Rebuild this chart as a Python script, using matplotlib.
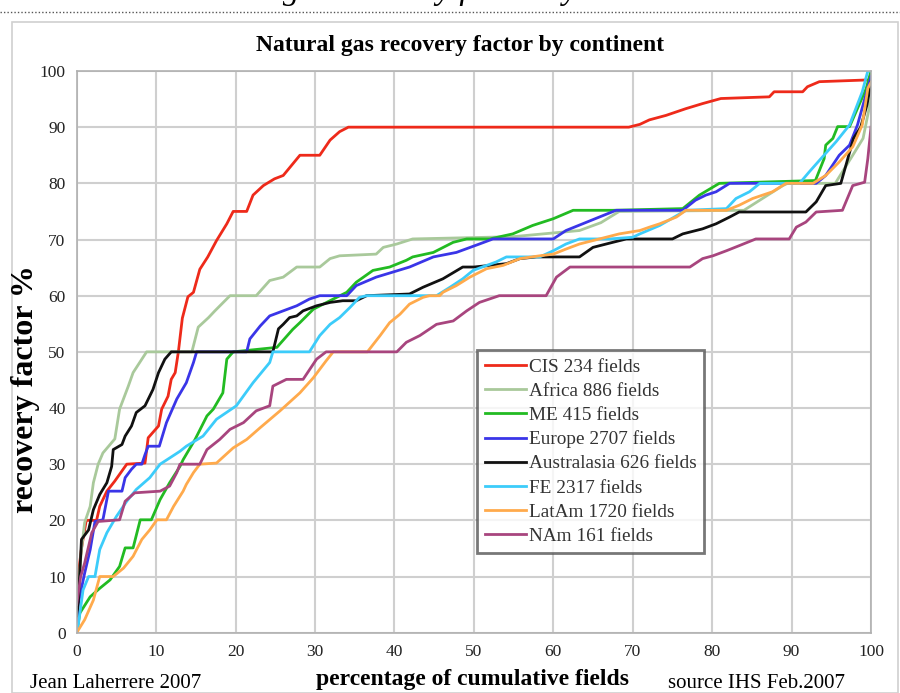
import matplotlib
matplotlib.use('Agg')
import matplotlib.pyplot as plt
from matplotlib.patches import Rectangle
from matplotlib.lines import Line2D

plt.rcParams['font.family'] = ['Liberation Serif', 'DejaVu Serif']

# 各大陸のデータ (累積フィールド% , 回収率%)
cis_x = [0, 0.6, 1.2, 2.5, 2.9, 3.8, 4.8, 5.7, 6.3, 8.6, 9.0, 10.3, 10.7, 11.5, 11.9, 12.4, 12.8, 13.3,
         14.0, 14.7, 15.5, 16.5, 17.6, 18.9, 19.7, 21.4, 22.2, 23.5, 24.9, 26.0, 28.1, 30.6, 31.9, 33.1,
         34.2, 69.5, 70.9, 72.1, 74.2, 76.7, 78.8, 81.1, 87.2, 87.8, 91.4, 92.0, 93.5, 99.4, 100]
cis_y = [8, 15, 20, 20, 22.5, 25.2, 27, 28.8, 30, 30.2, 34.7, 36.8, 39.8, 42.1, 45.1, 46.3, 50, 56,
         59.8, 60.6, 64.7, 66.9, 69.8, 72.8, 75, 75, 77.9, 79.6, 80.8, 81.4, 85, 85, 87.7, 89.2,
         90, 90, 90.5, 91.3, 92.1, 93.3, 94.2, 95.1, 95.4, 96.3, 96.3, 97.2, 98.1, 98.4, 98.4]

africa_x = [0, 0.3, 0.6, 1.0, 1.7, 2.1, 2.7, 3.3, 4.2, 4.8, 5.4, 6.5, 7.1, 8.8, 14.5, 15.3, 16.6, 17.4,
            19.3, 22.6, 24.3, 26.0, 27.7, 30.6, 31.9, 33.1, 37.7, 38.6, 40.3, 42.3, 54.9, 63.3, 66.0,
            68.3, 84.0, 86.0, 88.9, 89.5, 95.5, 97.7, 99.0, 100]
africa_y = [4, 10, 14.8, 19.6, 22.5, 26.7, 30, 32, 33.5, 34.5, 39.8, 43.9, 46.3, 50, 50, 54.4, 56.1, 57.3,
            60, 60, 62.7, 63.3, 65.1, 65.1, 66.6, 67.1, 67.4, 68.6, 69.2, 70.1, 70.5, 71.6, 73,
            75, 75.2, 77, 79.6, 80, 80, 85, 88, 95]

me_x = [0, 0.4, 1.7, 2.9, 4.2, 5.4, 6.1, 7.1, 8.0, 9.4, 10.5, 11.7, 13.0, 13.4, 14.9, 16.4, 17.2, 18.4,
        18.9, 19.7, 25.2, 27.2, 28.1, 29.8, 32.3, 34.0, 35.2, 37.3, 39.4, 41.5, 42.3, 44.9, 47.4, 49.1,
        52.0, 54.9, 57.4, 60.0, 62.5, 67.5, 76.3, 78.4, 80.9, 93.0, 94.1, 94.3, 95.2, 95.8, 97.3, 99.4, 100]
me_y = [0, 3.5, 6.4, 7.9, 9.4, 11.8, 15.1, 15.1, 20.1, 20.1, 23.7, 26.7, 29.6, 30.8, 34.4, 38.6, 39.8, 42.7,
        48.7, 50, 50.8, 54, 55.2, 57.6, 59.4, 60.6, 62.4, 64.5, 65.1, 66.3, 66.9, 67.7, 69.5, 70.1,
        70.1, 71, 72.5, 73.7, 75.2, 75.2, 75.5, 77.9, 80, 80.5, 84.4, 86.8, 88, 90.1, 90.1, 96.9, 100]

europe_x = [0, 0.2, 1.0, 1.7, 2.3, 3.3, 4.0, 5.7, 6.1, 6.9, 7.5, 8.2, 8.6, 9.0, 10.4, 11.3, 12.6, 13.8,
            14.7, 15.1, 21.4, 21.8, 23.1, 24.3, 26.0, 27.7, 29.3, 30.6, 34.0, 35.2, 37.7, 39.8, 41.9,
            44.9, 47.8, 50.7, 52.4, 60.0, 61.6, 63.7, 65.8, 67.9, 76.3, 77.9, 79.2, 80.5, 82.2, 93.1,
            94.3, 96.0, 97.3, 98.3, 99.4, 100]
europe_y = [0, 5.2, 10.6, 14.8, 19.8, 20.1, 25.2, 25.2, 27.6, 29.1, 30, 30, 31.7, 33.2, 33.2, 37.4, 41.6, 44.5,
            48.1, 50, 50, 52.3, 54.6, 56.4, 57.3, 58.2, 59.4, 60, 60, 61.8, 63.3, 64.2, 65.1,
            66.9, 67.7, 69.2, 70.1, 70.1, 71.6, 72.8, 74, 75.2, 75.2, 77, 77.9, 78.5, 80, 80,
            81.4, 85, 86.8, 90.4, 96, 99]

austral_x = [0, 0.2, 0.6, 1.5, 2.1, 2.9, 3.8, 4.4, 4.6, 5.7, 6.1, 6.9, 7.5, 8.6, 9.6, 10.3, 11.1, 11.9,
             24.7, 25.4, 26.0, 26.8, 27.7, 28.5, 30.2, 31.9, 33.5, 35.2, 36.5, 41.9, 43.6, 46.1, 48.6,
             50.0, 54.1, 55.8, 57.9, 63.3, 65.0, 67.5, 69.2, 75.0, 76.3, 78.8, 80.5, 82.2, 83.4, 91.8,
             93.1, 94.3, 96.2, 97.0, 97.8, 98.7, 99.5, 100]
austral_y = [3, 5.2, 16.6, 18.3, 21.9, 24.6, 26.7, 29.6, 32.6, 33.5, 35, 36.8, 39.2, 40.4, 43.3, 46.3, 48.7, 50,
             50, 54.1, 54.9, 56.1, 56.4, 57.3, 58.2, 58.8, 59.1, 59.1, 60, 60.3, 61.5, 63, 65.1,
             65.1, 65.7, 66.6, 66.9, 66.9, 68.6, 69.5, 70.1, 70.1, 71, 71.9, 72.8, 74, 74.9, 74.9,
             76.7, 79.6, 80, 84, 88, 90, 94, 98]

fe_x = [0, 0.2, 0.8, 1.5, 2.3, 2.9, 3.8, 5.0, 6.3, 7.5, 9.2, 10.5, 11.7, 13.0, 13.8, 15.9, 17.6, 20.1,
        22.2, 24.3, 24.7, 29.3, 30.6, 31.9, 33.1, 34.4, 35.6, 36.5, 45.3, 47.0, 48.6, 49.9, 52.8, 54.1,
        58.3, 60.0, 61.6, 63.3, 67.1, 70.0, 70.9, 73.4, 76.7, 81.8, 83.0, 84.7, 86.0, 91.0, 92.2, 93.7,
        95.6, 97.3, 98.9, 99.6, 100]
fe_y = [0, 1.4, 7.6, 10, 10, 14.8, 17.8, 20.7, 23.4, 25.5, 27.6, 30, 31.1, 32.3, 33.2, 35, 38, 40.4,
        44.5, 48.1, 50, 50, 52.9, 54.9, 56.1, 57.9, 59.7, 60, 60, 61.5, 63, 64.5, 66, 66.9,
        66.9, 68, 69.2, 70.1, 70.1, 70.4, 71, 72.5, 75.2, 75.5, 77.3, 78.5, 80, 80, 82, 84.4,
        87.4, 90.4, 96.3, 100, 100]

latam_x = [0, 1.0, 2.1, 2.9, 4.6, 5.9, 7.1, 8.2, 9.2, 10.1, 11.3, 12.2, 13.4, 13.8, 14.7, 15.5, 17.6,
           19.7, 21.4, 23.1, 25.6, 28.1, 29.8, 31.4, 32.3, 36.6, 38.2, 39.4, 40.7, 41.9, 43.6, 44.4,
           45.7, 46.1, 47.8, 49.5, 51.6, 53.7, 55.8, 58.3, 60.0, 61.6, 63.3, 65.8, 68.3, 70.9, 72.1,
           73.4, 75.5, 76.7, 81.8, 83.4, 85.1, 87.6, 89.3, 92.7, 94.3, 96.0, 97.7, 98.9, 99.6, 100]
latam_y = [0, 2.3, 5.8, 10, 10, 11.5, 13.6, 16.6, 18.3, 20.1, 20.1, 22.5, 25.2, 26.4, 28.5, 30, 30.2,
           32.9, 34.4, 36.5, 39.5, 42.7, 45.4, 48.4, 50, 50, 52.9, 55.2, 56.7, 58.5, 59.7, 60,
           60, 60.6, 61.8, 63.3, 64.8, 65.4, 66.6, 67.1, 67.4, 68.3, 69.2, 70.1, 71, 71.6, 72.2,
           72.8, 74, 75.2, 75.2, 76.1, 77.3, 78.5, 80, 80, 81.4, 83.8, 86.5, 90.4, 96.9, 98]

nam_x = [0, 0.5, 1.0, 1.5, 1.9, 2.7, 5.4, 6.1, 7.3, 10.5, 11.7, 12.6, 13.0, 15.5, 16.4, 18.0, 19.3, 21.0,
         22.6, 24.3, 24.7, 26.4, 28.5, 30.2, 31.4, 40.3, 41.5, 43.2, 45.3, 47.4, 49.1, 50.7, 53.2,
         59.1, 60.4, 62.1, 77.2, 78.8, 80.1, 81.8, 83.4, 85.5, 89.7, 90.6, 91.8, 93.1, 96.4, 97.7,
         99.2, 99.6, 100]
nam_y = [5, 10, 12.4, 15.4, 17.8, 19.8, 20.1, 23.4, 24.9, 25.2, 26.1, 28.5, 30, 30, 32.6, 34.4, 36.2, 37.4,
         39.5, 40.4, 43.9, 45.1, 45.1, 48.7, 50, 50, 51.7, 52.9, 54.9, 55.5, 57.3, 58.8, 60,
         60, 63.3, 65.1, 65.1, 66.6, 67.1, 68, 68.9, 70.1, 70.1, 72.2, 73.1, 74.9, 75.2, 79.6,
         80.2, 84.4, 90]

labels = ['CIS 234 fields', 'Africa 886 fields', 'ME 415 fields', 'Europe 2707 fields',
          'Australasia 626 fields', 'FE 2317 fields', 'LatAm 1720 fields', 'NAm 161 fields']
colors = ['#ee2a1a', '#a9c99b', '#22bb22', '#3a35e8', '#111111', '#3cccfa', '#ffaa4c', '#a8457e']
series = [(cis_x, cis_y), (africa_x, africa_y), (me_x, me_y), (europe_x, europe_y),
          (austral_x, austral_y), (fe_x, fe_y), (latam_x, latam_y), (nam_x, nam_y)]

fig = plt.figure(figsize=[9, 6.93], dpi=100)
W, H = 900, 693

# 枠と上の点線
fig.patches.append(Rectangle((12 / W, 0), (898 - 12) / W, 1 - 22 / H, transform=fig.transFigure,
                             facecolor='none', edgecolor='#d0d0d0', linewidth=1.2, zorder=-1))
fig.add_artist(Line2D([0, 1], [1 - 12 / H, 1 - 12 / H], transform=fig.transFigure,
                      color='#555555', linestyle=(0, (1, 1.5)), linewidth=1))
# 上で切れている見出し (下端だけ見える)
fig.text(172 / W, 1 + 1 / H, 'Natural gas recovery factor by continent', style='italic',
         fontsize=23.8, va='baseline', ha='left')

ax = fig.add_axes([76.7 / W, 1 - 632.7 / H, (871 - 76.7) / W, (632.7 - 71) / H])
for (xs, ys), c, lab in zip(series, colors, labels):
    ax.plot(xs, ys, color=c, linewidth=2.0, label=lab)

ax.set_xlim(0, 100)
ax.set_ylim(0, 100)
ax.set_xticks(range(0, 101, 10))
ax.set_yticks(range(0, 101, 10))
ax.grid(color='#cfcfcf', linewidth=1.5)
ax.set_axisbelow(True)
ax.tick_params(length=0, labelsize=12.5, labelcolor='#222222', pad=8)
for s in ax.spines.values():
    s.set_color('#b0b0b0')
    s.set_linewidth(1.2)

fig.text(460 / W, 1 - 45 / H, 'Natural gas recovery factor by continent', fontsize=17,
         fontweight='bold', ha='center', va='center')
fig.text(26 / W, 1 - 389 / H, 'recovery factor %', fontsize=23, fontweight='bold',
         rotation=90, ha='center', va='center')

leg = ax.legend(loc='upper left', bbox_to_anchor=(0.504, 0.503), borderaxespad=0,
                fontsize=13.9, frameon=True, fancybox=False, handlelength=2.1,
                handletextpad=0.15, labelspacing=0.34, borderpad=0.42)
leg.get_frame().set_edgecolor('#555555')
leg.get_frame().set_linewidth(2)
for t in leg.get_texts():
    t.set_color('#333333')

fig.text(473 / W, 1 - 679 / H, 'percentage of cumulative fields', fontsize=17, fontweight='bold',
         ha='center', va='center')
fig.text(30 / W, 1 - 684 / H, 'Jean Laherrere 2007', fontsize=15, ha='left', va='center')
fig.text(668 / W, 1 - 684 / H, 'source IHS Feb.2007', fontsize=15, ha='left', va='center')

fig.savefig('out.png', dpi=100)
